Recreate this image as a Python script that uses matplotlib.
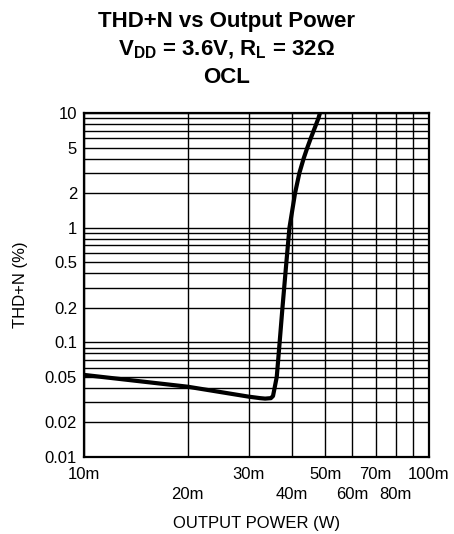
import matplotlib
matplotlib.use("Agg")
import matplotlib.pyplot as plt
from matplotlib.ticker import LogLocator, NullFormatter

plt.rcParams['font.family'] = ['Liberation Sans', 'DejaVu Sans']
plt.rcParams['mathtext.fontset'] = 'custom'
plt.rcParams['mathtext.rm'] = 'Liberation Sans:bold'
plt.rcParams['mathtext.bf'] = 'Liberation Sans:bold'

# curve: output power (mW) vs THD+N (%)
power_mw = [10, 20, 30, 32.4, 33.5, 34.8, 35.3, 35.5, 36.2, 36.9, 37.6, 38.6, 39.4,
            40.9, 42.1, 43.3, 44.4, 45.4, 46.3, 47.1, 47.8, 48.3]
thd_pct = [0.052, 0.041, 0.0336, 0.0326, 0.0323, 0.0326, 0.034, 0.037, 0.05, 0.1, 0.2, 0.5, 1,
           2, 3, 4, 5, 6, 7, 8, 9, 10]

x_ticks = [10, 20, 30, 40, 50, 60, 70, 80, 100]
x_labels = ['10m', '20m', '30m', '40m', '50m', '60m', '70m', '80m', '100m']
lower_row = ['20m', '40m', '60m', '80m']
y_ticks = [0.01, 0.02, 0.05, 0.1, 0.2, 0.5, 1, 2, 5, 10]
y_labels = ['0.01', '0.02', '0.05', '0.1', '0.2', '0.5', '1', '2', '5', '10']

fig = plt.figure(figsize=(4.54, 5.34), dpi=100)
ax = fig.add_axes([0.185, 0.1442, 0.760, 0.6442])

ax.plot(power_mw, thd_pct, color='black', lw=3, solid_joinstyle='round', zorder=3)

ax.set_xscale('log')
ax.set_yscale('log')
ax.set_xlim(10, 100)
ax.set_ylim(0.01, 10)

ax.xaxis.set_minor_locator(LogLocator(base=10, subs=range(2, 10)))
ax.xaxis.set_minor_formatter(NullFormatter())
ax.yaxis.set_minor_locator(LogLocator(base=10, subs=range(2, 10)))
ax.yaxis.set_minor_formatter(NullFormatter())
ax.set_xticks(x_ticks, x_labels)
ax.set_yticks(y_ticks, y_labels)

ax.grid(True, which='both', color='black', lw=1.0)
ax.tick_params(which='both', length=0, labelsize=12, colors='black')
ax.tick_params(axis='x', pad=7)
ax.tick_params(axis='y', pad=5)
for tick, lab in zip(ax.xaxis.get_major_ticks(), x_labels):
    if lab in lower_row:
        tick.set_pad(21.5)
for s in ax.spines.values():
    s.set_linewidth(1.6)

ax.set_xlabel('OUTPUT POWER (W)', fontsize=12, labelpad=10)
ax.set_ylabel('THD+N (%)', fontsize=12, labelpad=12)

fig.text(0.5, 0.950, 'THD+N vs Output Power', ha='center', va='baseline',
         fontsize=16, fontweight='bold')
fig.text(0.5, 0.897, r'V$_{\mathrm{DD}}$ = 3.6V, R$_{\mathrm{L}}$ = 32Ω', ha='center',
         va='baseline', fontsize=16, fontweight='bold')
fig.text(0.5, 0.845, 'OCL', ha='center', va='baseline', fontsize=16, fontweight='bold')

fig.savefig('out.png', dpi=100)
